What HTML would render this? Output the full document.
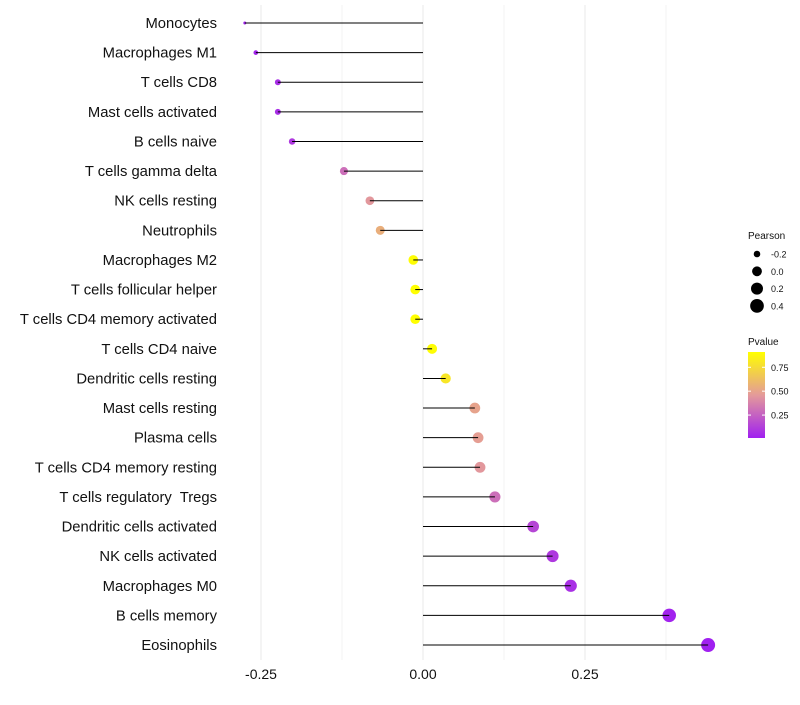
<!DOCTYPE html>
<html><head><meta charset="utf-8"><style>
body{margin:0;background:#fff;font-family:"Liberation Sans",sans-serif}
</style></head><body>
<svg id="chart" width="800" height="700" xmlns="http://www.w3.org/2000/svg" font-family="Liberation Sans, sans-serif"></svg>
<script>
const categories=["Monocytes","Macrophages M1","T cells CD8","Mast cells activated","B cells naive","T cells gamma delta","NK cells resting","Neutrophils","Macrophages M2","T cells follicular helper","T cells CD4 memory activated","T cells CD4 naive","Dendritic cells resting","Mast cells resting","Plasma cells","T cells CD4 memory resting","T cells regulatory  Tregs","Dendritic cells activated","NK cells activated","Macrophages M0","B cells memory","Eosinophils"];
const pearson=[-0.275,-0.258,-0.224,-0.224,-0.202,-0.122,-0.082,-0.066,-0.015,-0.012,-0.012,0.014,0.035,0.080,0.085,0.088,0.111,0.170,0.200,0.228,0.380,0.440];
const pvalue=[0.02,0.03,0.06,0.06,0.1,0.3,0.45,0.55,0.9,0.92,0.93,0.9,0.8,0.5,0.48,0.45,0.3,0.15,0.1,0.07,0.02,0.01];
const xTicks=[-0.25,0,0.25];
const xTickLabels=["-0.25","0.00","0.25"];
const sizeLegend=[-0.2,0,0.2,0.4];
const colorTicks=[0.25,0.5,0.75];
const NS="http://www.w3.org/2000/svg",svg=document.getElementById('chart');
function mk(t,a,p){const e=document.createElementNS(NS,t);for(const k in a)e.setAttribute(k,a[k]);(p||svg).appendChild(e);return e;}
const X=v=>423+v*648, Y=i=>23+i*29.62;
const R=v=>1.5+5.5*Math.sqrt(Math.max(0,v+0.275)/0.715);
function lerp(a,b,t){return a.map((x,i)=>Math.round(x+(b[i]-x)*t));}
function col(p){const t=Math.max(0,Math.min(1,(p-0.01)/0.9));const c0=[160,32,240],c1=[228,154,154],c2=[255,255,0];
const c=t<0.5?lerp(c0,c1,t*2):lerp(c1,c2,(t-0.5)*2);return `rgb(${c})`;}
[-0.25,-0.125,0,0.125,0.25,0.375].forEach(v=>{const g=mk('line',{x1:X(v),x2:X(v),y1:5,y2:660,stroke:'#ebebeb','stroke-width':Math.abs(v*8)%2==1?0.6:1.1});
});
xTicks.forEach((v,i)=>{const t=mk('text',{x:X(v),y:679,'text-anchor':'middle','font-size':14,fill:'#111'});t.textContent=xTickLabels[i];
});
categories.forEach((c,i)=>{
const t=mk('text',{x:217,y:Y(i)+5,'text-anchor':'end','font-size':14.8,fill:'#111'});t.setAttribute('xml:space','preserve');t.style.whiteSpace='pre';t.textContent=c;

const d=mk('circle',{cx:X(pearson[i]),cy:Y(i),r:R(pearson[i]),fill:col(pvalue[i])});

const l=mk('line',{x1:X(0),x2:X(pearson[i]),y1:Y(i),y2:Y(i),stroke:'#000','stroke-width':1});

});
let t=mk('text',{x:748,y:239,'font-size':10,fill:'#111'});t.textContent='Pearson';

sizeLegend.forEach((v,i)=>{const y=254+i*17.3;const c=mk('circle',{cx:757,cy:y,r:R(v),fill:'#000'});

const s=mk('text',{x:771,y:y+3.5,'font-size':9,fill:'#111'});s.textContent=(v==0?'0.0':String(v));
});
t=mk('text',{x:748,y:345,'font-size':10,fill:'#111'});t.textContent='Pvalue';

const defs=mk('defs',{});const lg=mk('linearGradient',{id:'pg',x1:0,y1:1,x2:0,y2:0},defs);
[[0,'rgb(160,32,240)'],[0.5,'rgb(228,154,154)'],[1,'rgb(255,255,0)']].forEach(s=>mk('stop',{offset:s[0],'stop-color':s[1]},lg));
const cb=mk('rect',{x:748,y:352,width:17,height:86,fill:'url(#pg)'});

const CY=p=>438-(p-0.01)/0.9*86;
colorTicks.forEach(p=>{mk('line',{x1:748,x2:751,y1:CY(p),y2:CY(p),stroke:'#fff'});mk('line',{x1:762,x2:765,y1:CY(p),y2:CY(p),stroke:'#fff'});
const s=mk('text',{x:771,y:CY(p)+3.5,'font-size':9,fill:'#111'});s.textContent=p.toFixed(2);
});
</script>
</body></html>
